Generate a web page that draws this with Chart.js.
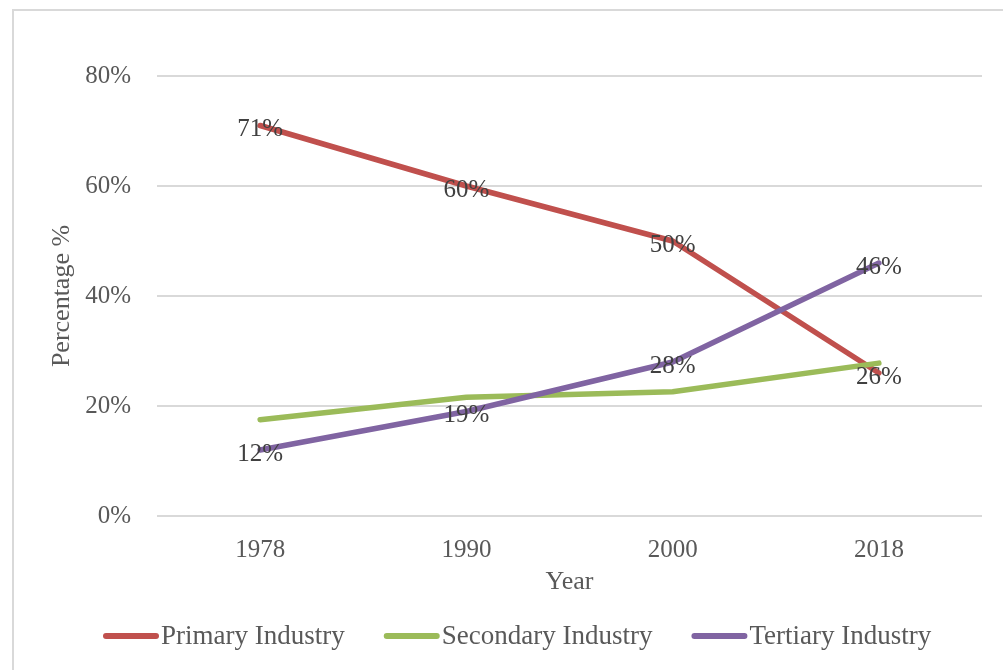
<!DOCTYPE html>
<html>
<head>
<meta charset="utf-8">
<title>Industry share by year</title>
<script src="https://cdn.jsdelivr.net/npm/chart.js@4.4.1/dist/chart.umd.min.js"></script>
<style>
  body { margin: 0; overflow: hidden; background: #fff; }
  #frame {
    position: absolute; left: 12px; top: 9px; width: 1100px; height: 700px;
    border-left: 2px solid #d9d9d9; border-top: 2px solid #d9d9d9;
  }
  #myChart { position: absolute; left: 0; top: 0; }
</style>
</head>
<body>
<div id="frame"></div>
<canvas id="myChart" width="1003" height="670"></canvas>
<script>
const years = ["1978", "1990", "2000", "2018"];
const primaryShare = [71, 60, 50, 26];
const secondaryShare = [17.5, 21.6, 22.6, 27.8];
const tertiaryShare = [12, 19, 28, 46];
const yTicks = [0, 20, 40, 60, 80];

const serif = "'Liberation Serif', 'Times New Roman', serif";

// value labels sit centred on each point of the labelled series
const pointLabels = {
  id: "pointLabels",
  afterDatasetsDraw(chart) {
    const { ctx } = chart;
    ctx.save();
    ctx.font = `25px ${serif}`;
    ctx.fillStyle = "#404040";
    ctx.textAlign = "center";
    ctx.textBaseline = "middle";
    chart.data.datasets.forEach((ds, i) => {
      if (!ds.showLabels) return;
      chart.getDatasetMeta(i).data.forEach((pt, j) => {
        ctx.fillText(Math.round(ds.data[j]) + "%", pt.x, pt.y + 4);
      });
    });
    ctx.restore();
  },
};

// legend drawn as line swatches with the text right after them
const lineLegend = {
  id: "lineLegend",
  afterDraw(chart) {
    const { ctx } = chart;
    const swatch = 56;
    const gap = 2;
    const spacing = 39;
    const y = 636;
    let x = 103;
    ctx.save();
    ctx.font = `27px ${serif}`;
    ctx.textBaseline = "middle";
    ctx.textAlign = "left";
    chart.data.datasets.forEach((ds) => {
      ctx.strokeStyle = ds.borderColor;
      ctx.lineWidth = 6;
      ctx.lineCap = "round";
      ctx.beginPath();
      ctx.moveTo(x + 3, y);
      ctx.lineTo(x + swatch - 3, y);
      ctx.stroke();
      ctx.fillStyle = "#595959";
      ctx.fillText(ds.label, x + swatch + gap, y + 1);
      x += swatch + gap + ctx.measureText(ds.label).width + spacing;
    });
    ctx.restore();
  },
};

const myChart = new Chart(document.getElementById("myChart"), {
  type: "line",
  data: {
    labels: years,
    datasets: [
      {
        label: "Primary Industry",
        data: primaryShare,
        borderColor: "#C0504D",
        showLabels: true,
        order: 3,
      },
      {
        label: "Secondary Industry",
        data: secondaryShare,
        borderColor: "#9BBB59",
        showLabels: false,
        order: 2,
      },
      {
        label: "Tertiary Industry",
        data: tertiaryShare,
        borderColor: "#8064A2",
        showLabels: true,
        order: 1,
      },
    ],
  },
  options: {
    responsive: false,
    animation: false,
    elements: {
      line: { borderWidth: 5.5, tension: 0, borderCapStyle: "round", borderJoinStyle: "round" },
      point: { radius: 0, hoverRadius: 0 },
    },
    layout: { padding: { left: 40, right: 21, top: 76, bottom: 70 } },
    plugins: {
      legend: { display: false },
      tooltip: { enabled: false },
    },
    scales: {
      x: {
        offset: true,
        grid: { display: false, drawTicks: false },
        border: { display: false },
        ticks: {
          padding: 19,
          color: "#595959",
          font: { family: serif, size: 25 },
        },
        title: {
          display: true,
          text: "Year",
          color: "#595959",
          font: { family: serif, size: 26 },
          padding: { top: 0, bottom: 2 },
        },
        afterFit: (scale) => {
          scale.height = 84;
        },
      },
      y: {
        min: 0,
        max: 80,
        afterBuildTicks: (scale) => {
          scale.ticks = yTicks.map((v) => ({ value: v }));
        },
        grid: { color: "#d9d9d9", lineWidth: 2, drawTicks: false },
        border: { display: false },
        ticks: {
          padding: 26,
          color: "#595959",
          font: { family: serif, size: 25 },
          callback: (v) => v + "%",
        },
        title: {
          display: true,
          text: "Percentage %",
          color: "#595959",
          font: { family: serif, size: 26 },
          padding: { top: 7, bottom: 0 },
        },
        afterFit: (scale) => {
          scale.width = 117;
        },
      },
    },
  },
  plugins: [pointLabels, lineLegend],
});
</script>
</body>
</html>
